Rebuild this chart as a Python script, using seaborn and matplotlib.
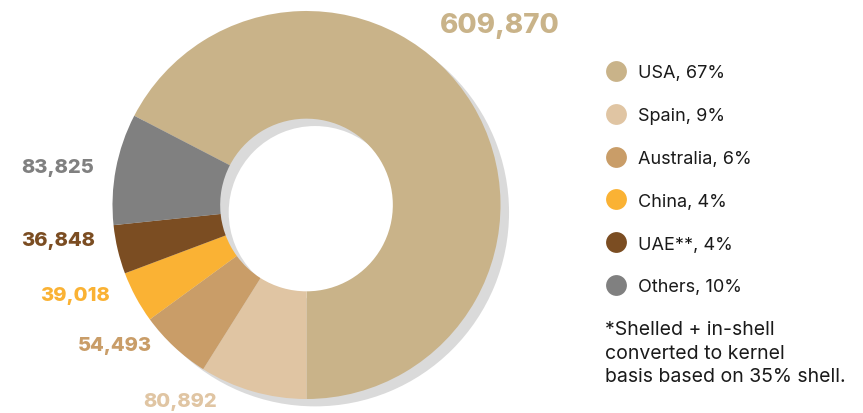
import matplotlib
matplotlib.use("Agg")
import matplotlib.pyplot as plt
from matplotlib.lines import Line2D
import seaborn as sns

# production, kernel basis
countries = ["USA", "Spain", "Australia", "China", "UAE**", "Others"]
values = [609870, 80892, 54493, 39018, 36848, 83825]
shares = [67, 9, 6, 4, 4, 10]
colors = ["#C9B389", "#E0C5A3", "#C99D68", "#FAB234", "#7B4D22", "#808080"]
footnote = "*Shelled + in-shell\nconverted to kernel\nbasis based on 35% shell."

sns.set_theme(style="white")
plt.rcParams["font.family"] = ["Inter", "DejaVu Sans"]

fig = plt.figure(figsize=(8.63, 4.14), dpi=100)
W, H = 863, 414
cx, cy, r = 306.5, 414 - 206, 194
ax = fig.add_axes([(cx - r) / W, (cy - r) / H, 2 * r / W, 2 * r / H])
ax.set_aspect("equal")
ax.axis("off")

total = sum(values)
start = -90 + 360 * values[0] / total
ring = dict(width=0.555, edgecolor="none")

# drop shadow
sh, _ = ax.pie([1], colors=["#DADADA"], radius=1, center=(0.044, -0.038),
               wedgeprops=ring)
wedges, _ = ax.pie(values, colors=colors, radius=1, startangle=start,
                   counterclock=False, wedgeprops=ring)
for p in sh + wedges:
    p.set_clip_on(False)
ax.set_xlim(-1, 1); ax.set_ylim(-1, 1)

# value labels (pixel positions from the top-left)
label_pos = [(500, 26, 20), (180, 402, 14.5), (115, 346, 14.5), (75, 296, 14.5),
             (58, 241, 14.5), (58, 168, 14.5)]
for v, c, (x, y, fs) in zip(values, colors, label_pos):
    fig.text(x / W, 1 - y / H, f"{v:,}", color=c, fontsize=fs,
             fontweight="heavy", ha="center", va="center")

handles = [Line2D([], [], marker="o", linestyle="none", markersize=15,
                  markerfacecolor=c, markeredgecolor="none") for c in colors]
labels = [f"{n}, {s}%" for n, s in zip(countries, shares)]
fig.legend(handles, labels, loc="upper left", bbox_to_anchor=(589 / W, 1 - 49 / H),
           frameon=False, fontsize=13, labelspacing=1.43, handletextpad=0.6,
           handlelength=1.2, labelcolor="#1A1A1A")

fig.text(605 / W, 1 - 321 / H, footnote, fontsize=14, color="#1A1A1A",
         ha="left", va="top", linespacing=1.4)

fig.savefig("out.png", dpi=100)
